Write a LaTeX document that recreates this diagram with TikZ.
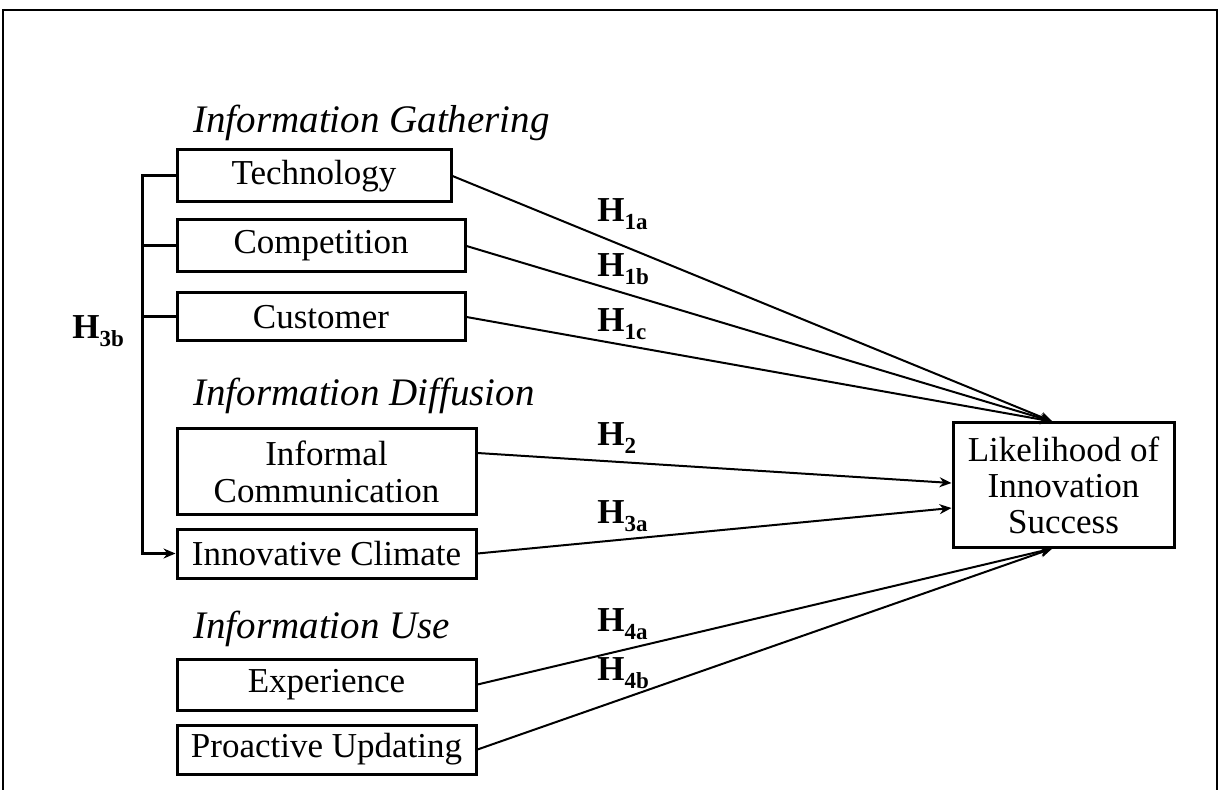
\documentclass[tikz,border=0pt]{standalone}
\usepackage{fontspec}
\setmainfont{Liberation Serif}
\usetikzlibrary{arrows.meta,calc}
\newcommand\hsub[1]{H\raisebox{-4pt}{\fontsize{11.5}{12}\selectfont #1}}
\begin{document}
\begin{tikzpicture}[x=0.5pt,y=-0.5pt,
  box/.style={draw, line width=1.5pt, inner sep=0pt, font=\fontsize{17.5}{18.5}\selectfont, align=center},
  conn/.style={line width=1pt, -{Stealth[length=6pt,width=5pt]}},
  tick/.style={line width=1.5pt},
  cat/.style={anchor=base west, inner sep=0pt, font=\fontsize{19.5}{21}\selectfont\itshape},
  hyp/.style={anchor=base west, inner sep=0pt, font=\fontsize{17.5}{18}\selectfont\bfseries}]
\useasboundingbox (0,0) rectangle (1219,790);
\draw[line width=1.4pt] (3,790) -- (3,10) -- (1217,10) -- (1217,790);

% category headings
\node[cat] (g1) at (193,133) {Information Gathering};
\node[cat] (g2) at (193,406) {Information Diffusion};
\node[cat] (g3) at (193,638) {Information Use};

% boxes
\node[box, minimum width=137pt, minimum height=26pt] (tech) at (314,176) {Technology};
\node[box, minimum width=144pt, minimum height=26pt] (comp) at (321,246) {Competition};
\node[box, minimum width=144pt, minimum height=24pt] (cust) at (321,317) {Customer};
\node[box, minimum width=149.5pt, minimum height=42.5pt] (infc) at (326.5,471.5) {Informal\\Communication};
\node[box, minimum width=149.5pt, minimum height=24.5pt] (clim) at (326.5,553.5) {Innovative Climate};
\node[box, minimum width=149.5pt, minimum height=25.5pt] (exper) at (326.5,684.5) {Experience};
\node[box, minimum width=149.5pt, minimum height=24.5pt] (proa) at (326.5,749.5) {Proactive Updating};
\node[box, minimum width=110.5pt, minimum height=62pt, font=\fontsize{17.5}{18}\selectfont] (lik) at (1063.5,485) {Likelihood of\\Innovation\\Success};

% target points on outcome box
\coordinate (lt) at ($(lik.north west)!0.45!(lik.north east)$);
\coordinate (lb) at ($(lik.south west)!0.45!(lik.south east)$);
\coordinate (l2) at ($(lik.west)+(0,-2)$);
\coordinate (l3) at ($(lik.west)+(0,23)$);
\coordinate (s2) at ($(infc.east)+(0,-18.5)$);

% connectors
\draw[conn] (tech.east) -- (lt);
\draw[conn] (comp.east) -- (lt);
\draw[conn] (cust.east) -- (lt);
\draw[conn] (s2) -- (l2);
\draw[conn] (clim.east) -- (l3);
\draw[conn] (exper.east) -- (lb);
\draw[conn] (proa.east) -- (lb);

% H3b bracket
\coordinate (bk) at (142,176);
\draw[tick, -{Stealth[length=6pt,width=5pt]}] (tech.west) -- (bk) |- (clim.west);
\draw[tick] (comp.west) -- (comp.west -| bk);
\draw[tick] (cust.west) -- (cust.west -| bk);

% hypothesis labels
\node[hyp] (h1a) at (597,222) {\hsub{1a}};
\node[hyp] (h1b) at (597,277) {\hsub{1b}};
\node[hyp] (h1c) at (597,332) {\hsub{1c}};
\node[hyp] (h2) at (597,445) {\hsub{2}};
\node[hyp] (h3a) at (597,523) {\hsub{3a}};
\node[hyp] (h4a) at (597,631) {\hsub{4a}};
\node[hyp] (h4b) at (597,680) {\hsub{4b}};
\node[hyp] (h3b) at (72,339) {\hsub{3b}};
\end{tikzpicture}
\end{document}
